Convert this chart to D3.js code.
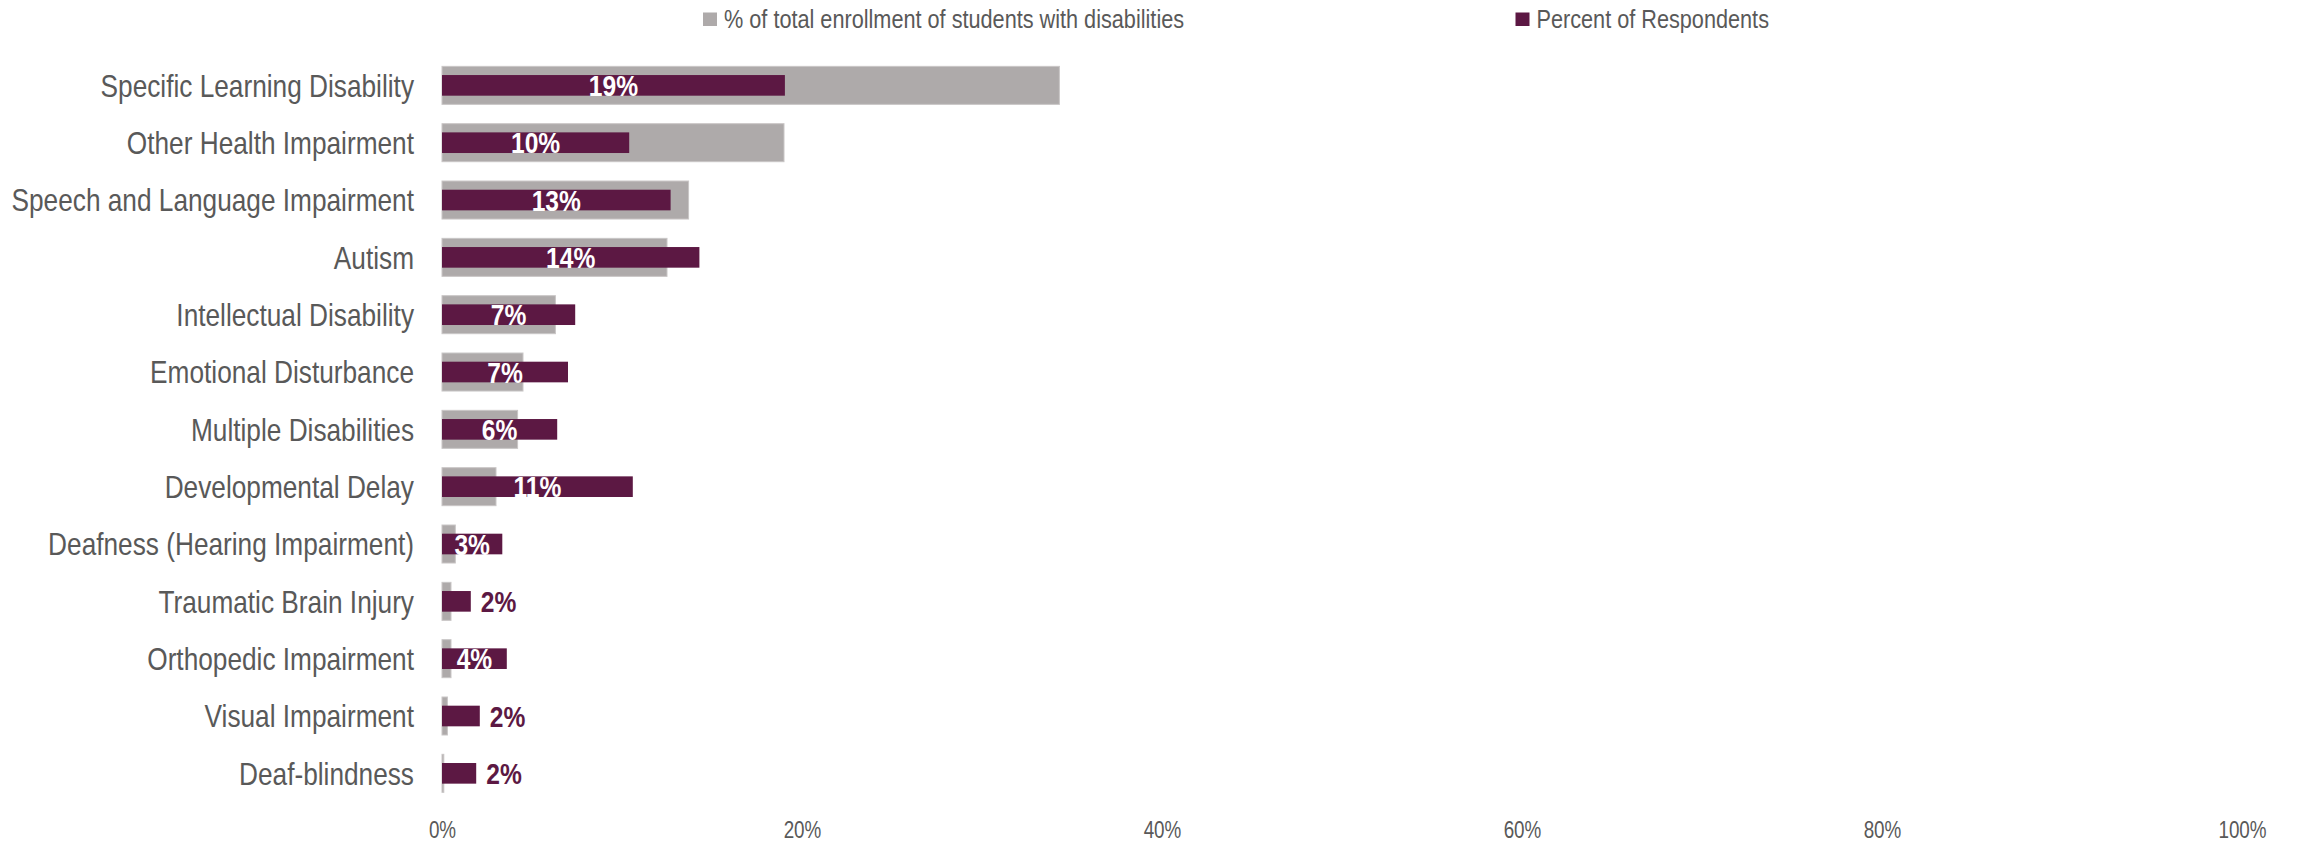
<!DOCTYPE html>
<html>
<head>
<meta charset="utf-8">
<script src="https://cdn.jsdelivr.net/npm/d3@7"></script>
<style>
  html, body { margin: 0; padding: 0; background: #fff; }
  svg { display: block; }
  text { font-family: "Liberation Sans", Arial, sans-serif; }
</style>
</head>
<body>
<svg id="chart" width="2298" height="843"></svg>
<script>
const categories = [
  "Specific Learning Disability",
  "Other Health Impairment",
  "Speech and Language Impairment",
  "Autism",
  "Intellectual Disability",
  "Emotional Disturbance",
  "Multiple Disabilities",
  "Developmental Delay",
  "Deafness (Hearing Impairment)",
  "Traumatic Brain Injury",
  "Orthopedic Impairment",
  "Visual Impairment",
  "Deaf-blindness"
];
const enrollment = [34.3, 19.0, 13.7, 12.5, 6.3, 4.5, 4.2, 3.0, 0.74, 0.5, 0.5, 0.3, 0.1];
const respondents = [19.05, 10.4, 12.7, 14.3, 7.4, 7.0, 6.4, 10.6, 3.35, 1.6, 3.6, 2.1, 1.9];
const tickValues = [0, 20, 40, 60, 80, 100];
const seriesNames = ["% of total enrollment of students with disabilities", "Percent of Respondents"];

const GRAY = "#AEAAAA", PURPLE = "#5C1843", TEXT = "#595959";
const NARROW = 0.82; // Arial Narrow emulation

const svg = d3.select("#chart");
const x = d3.scaleLinear().domain([0, 100]).range([442, 2242]);
const y = d3.scaleBand().domain(categories).range([56.7, 802]).padding(0);
const bw = y.bandwidth();
const grayH = bw * 0.663, purpleH = bw * 0.36;

// x axis tick labels
const xAxis = d3.axisBottom(x).tickValues(tickValues).tickFormat(d => d + "%").tickSize(0).tickPadding(0);
const gx = svg.append("g").attr("transform", "translate(0,821)").call(xAxis);
gx.select(".domain").remove();
gx.selectAll("text").attr("font-size", 23).attr("fill", TEXT)
  .attr("font-family", '"Liberation Sans", Arial, sans-serif')
  .attr("dy", "0.72em")
  .attr("transform", `scale(${NARROW},1)`);

// y category labels
const yAxis = d3.axisLeft(y).tickSize(0).tickPadding(0);
const gy = svg.append("g").attr("transform", "translate(414,0)").call(yAxis);
gy.select(".domain").remove();
gy.selectAll("text").attr("font-size", 32).attr("fill", TEXT)
  .attr("font-family", '"Liberation Sans", Arial, sans-serif')
  .attr("x", 0)
  .attr("dy", "0.35em")
  .attr("transform", `scale(${NARROW},1)`);

// gray bars
svg.append("g").selectAll("rect").data(categories).join("rect")
  .attr("x", x(0))
  .attr("y", d => y(d) + (bw - grayH) / 2)
  .attr("width", (d, i) => x(enrollment[i]) - x(0))
  .attr("height", grayH)
  .attr("fill", GRAY)
  .attr("stroke", "#C9C6C6").attr("stroke-width", 1);

// purple bars
svg.append("g").selectAll("rect").data(categories).join("rect")
  .attr("x", x(0))
  .attr("y", d => y(d) + (bw - purpleH) / 2)
  .attr("width", (d, i) => x(respondents[i]) - x(0))
  .attr("height", purpleH)
  .attr("fill", PURPLE);

// data labels
const lblG = svg.append("g").selectAll("g").data(categories).join("g");
const lbl = lblG.append("text")
  .attr("font-size", 30).attr("font-weight", "bold")
  .attr("dy", "0.35em")
  .text((d, i) => Math.round(respondents[i]) + "%");
lblG.each(function(d, i) {
  const g = d3.select(this);
  const t = g.select("text");
  const w = t.node().getComputedTextLength() * NARROW;
  const barW = x(respondents[i]) - x(0);
  let px;
  if (barW < w + 4) {
    px = x(respondents[i]) + 10;
    t.attr("text-anchor", "start").attr("fill", PURPLE);
  } else {
    px = x(0) + barW / 2;
    t.attr("text-anchor", "middle").attr("fill", "#fff");
  }
  g.attr("transform", `translate(${px},${y(d) + bw / 2}) scale(${NARROW},1)`);
});

// legend
const legendItems = [
  { name: seriesNames[0], color: GRAY, x: 703 },
  { name: seriesNames[1], color: PURPLE, x: 1515.5 }
];
const lg = svg.append("g").selectAll("g").data(legendItems).join("g");
lg.append("rect").attr("x", d => d.x).attr("y", 12.5).attr("width", 14).attr("height", 13.5).attr("fill", d => d.color);
lg.append("g").attr("transform", d => `translate(${d.x + 21},27.7) scale(0.834,1)`)
  .append("text")
  .attr("font-size", 26).attr("fill", TEXT)
  .text(d => d.name);
</script>
</body>
</html>
